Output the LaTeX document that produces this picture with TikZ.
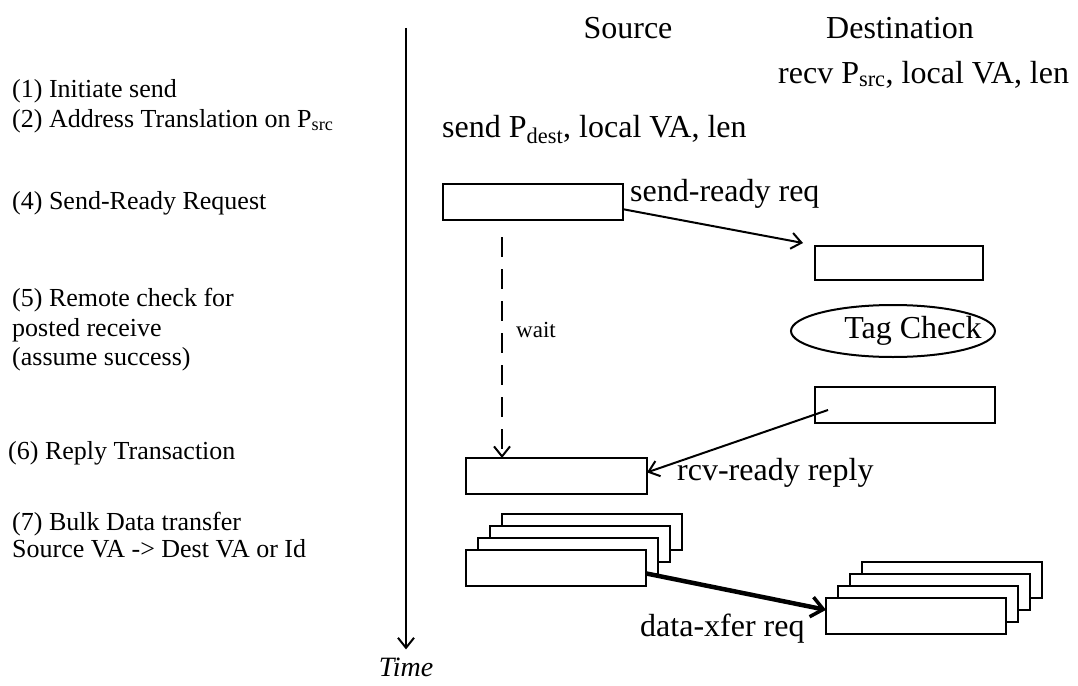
\documentclass[tikz,border=0pt]{standalone}
\usepackage{fontspec}
\setmainfont{Liberation Serif}
\usetikzlibrary{arrows.meta,shapes.geometric,calc}
\begin{document}
\begin{tikzpicture}[x=1pt,y=-1pt,
  box/.style 2 args={draw, line width=2.2pt, fill=white, inner sep=0pt, outer sep=0pt, anchor=north west, minimum width=#1, minimum height=#2},
  big/.style={font=\fontsize{32}{38}\selectfont, inner sep=0pt, anchor=base west},
  side/.style={font=\fontsize{26}{30}\selectfont, inner sep=0pt, anchor=base west},
  arr/.style={line width=2pt, -{Straight Barb[length=10pt,width=16pt,line width=2pt]}},
  thickarr/.style={line width=4.5pt, -{Straight Barb[length=12pt,width=20pt,line width=3.5pt]}}]
\useasboundingbox (0,0) rectangle (1078,685);

% left column
\node[side] (l1) at (12,97) {(1) Initiate send};
\node[side] (l2) at (12,127) {(2) Address Translation on P\textsubscript{src}};
\node[side] (l4) at (12,209) {(4) Send-Ready Request};
\node[side] (l5a) at (12,306) {(5) Remote check for};
\node[side] (l5b) at (12,336) {posted receive};
\node[side] (l5c) at (12,365) {(assume success)};
\node[side] (l6) at (8,459) {(6) Reply Transaction};
\node[side] (l7a) at (12,530) {(7) Bulk Data transfer};
\node[side] (l7b) at (12,557) {Source VA -> Dest VA or Id};

% time axis
\coordinate (ttop) at (406,28);
\node[font=\fontsize{28}{32}\selectfont\itshape, inner sep=0pt] (time) at (406,667) {Time};
\draw[arr] (ttop) -- ($(time.north)+(0,-8)$);

% headers
\node[big, anchor=base] (src) at (628,39) {Source};
\node[big, anchor=base] (dst) at (900,39) {Destination};
\node[big] (recv) at (778,83) {recv P\textsubscript{src}, local VA, len};
\node[big] (send) at (442,137) {send P\textsubscript{dest}, local VA, len};

% boxes
\node[box={180}{36}] (b1) at (443,184) {};
\node[big] (srreq) at (630,201) {send-ready req};
\node[box={168}{34}] (b2) at (815,246) {};
\coordinate (a1end) at (803,243);
\draw[arr] ($(b1.north east)!0.7!(b1.south east)$) -- (a1end);

\node[draw, line width=2pt, ellipse, minimum width=204pt, minimum height=52pt, inner sep=0pt] (tag) at (893,331) {};
\node[font=\fontsize{32}{38}\selectfont, inner sep=0pt] (tagtxt) at (913,331) {Tag Check};

\node[box={180}{36}] (b4) at (815,387) {};
\node[box={181}{36}] (b3) at (466,458) {};
\coordinate (a2start) at (828,410);
\draw[arr] (a2start) -- ($(b3.north east)!0.4!(b3.south east)$);
\node[big] (rcv) at (677,480) {rcv-ready reply};

% wait
\coordinate (wtop) at (502,237);
\draw[arr, dash pattern=on 20pt off 12pt] (wtop) -- (b3.north -| wtop);
\node[font=\fontsize{23}{28}\selectfont, inner sep=0pt, anchor=base west] (wait) at (516,337) {wait};

% left stack
\node[box={180}{36}] (s3) at (502,514) {};
\node[box={180}{36}] (s2) at (490,526) {};
\node[box={180}{36}] (s1) at (478,538) {};
\node[box={180}{36}] (s0) at (466,550) {};

% right stack
\node[box={180}{36}] (r3) at (862,562) {};
\node[box={180}{36}] (r2) at (850,574) {};
\node[box={180}{36}] (r1) at (838,586) {};
\node[box={180}{36}] (r0) at (826,598) {};

\draw[thickarr] ($(s0.north east)!0.65!(s0.south east)$) -- ($(r0.north west)!0.33!(r0.south west)$);
\node[big] (dx) at (640,636) {data-xfer req};
\end{tikzpicture}
\end{document}
